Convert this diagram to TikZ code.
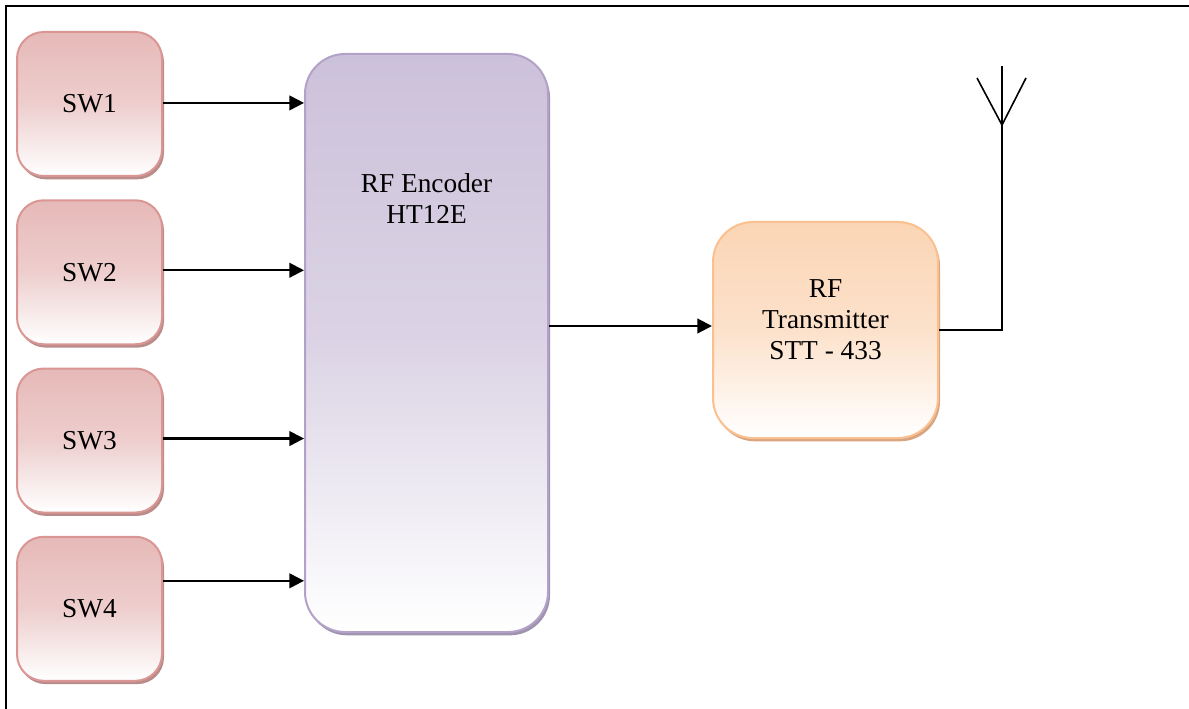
\documentclass[tikz,border=0pt]{standalone}
\usepackage{fontspec}
\setmainfont{Liberation Serif}
\usepackage{xcolor}
\usepackage{tikz}
\usetikzlibrary{arrows.meta,positioning,shadows,calc}

\definecolor{swtop}{HTML}{E6B9B8}
\definecolor{swline}{HTML}{D99694}
\definecolor{swshade}{HTML}{B98C8A}
\definecolor{enctop}{HTML}{CCC1DA}
\definecolor{encline}{HTML}{B3A2C7}
\definecolor{encshade}{HTML}{A093B0}
\definecolor{txtop}{HTML}{FBD5B5}
\definecolor{txline}{HTML}{FAC090}
\definecolor{txshade}{HTML}{D9A57E}

\begin{document}
\begin{tikzpicture}[
    x=0.75pt, y=-0.75pt,
    node distance=16.7pt,
    font=\fontsize{20.5}{23.25}\selectfont,
    block/.style={rectangle, line width=1.5pt, align=center, inner sep=0pt},
    swbox/.style={block, draw=swline, top color=swtop, bottom color=white, middle color=swtop!70!white,
        rounded corners=20pt, minimum width=108.75pt, minimum height=108pt,
        drop shadow={shadow xshift=1.5pt, shadow yshift=-2.5pt, fill=swshade, opacity=1}},
    encbox/.style={block, draw=encline, top color=enctop, bottom color=white, middle color=enctop!70!white,
        rounded corners=30pt, minimum width=182.25pt, minimum height=433.5pt,
        drop shadow={shadow xshift=1.5pt, shadow yshift=-2.5pt, fill=encshade, opacity=1}},
    txbox/.style={block, draw=txline, top color=txtop, bottom color=white, middle color=txtop!70!white,
        rounded corners=30pt, minimum width=168.75pt, minimum height=162pt,
        drop shadow={shadow xshift=1.5pt, shadow yshift=-2.5pt, fill=txshade, opacity=1}},
    arrow/.style={-{Triangle[length=11pt, width=11pt]}, line width=1.6pt},
    wire/.style={line width=1.2pt}
]
    \useasboundingbox (0,0) rectangle (1189,709);

    % page frame (cut at right and bottom)
    \draw[line width=1.5pt] (5.5,709) -- (5.5,6.5) -- (1189,6.5);

    % switches
    \node[swbox] (sw1) at (89.5,104) {SW1};
    \node[swbox, below=of sw1] (sw2) {SW2};
    \node[swbox, below=of sw2] (sw3) {SW3};
    \node[swbox, below=of sw3] (sw4) {SW4};

    % encoder
    \node[encbox] (enc) at (426.5,343) {};
    \node[align=center] (enctext) at (426.5,199) {RF Encoder\\HT12E};

    % transmitter
    \node[txbox] (tx) at (825.5,330) {};
    \node[align=center] (txtext) at (825.5,320) {RF\\Transmitter\\STT - 433};

    % antenna
    \coordinate (ant) at (1002,125);
    \coordinate (anttop) at (1002,66);
    \coordinate (antl) at (977,78);
    \coordinate (antr) at (1026,78);

    \foreach \i/\dy in {1/0.8,2/1.5,3/1.5,4/21} {
        \coordinate (out\i) at ([yshift=\dy pt]sw\i.east);
        \draw[arrow] (out\i) -- (enc.west |- out\i);
    }

    \coordinate (txin) at ([yshift=3pt]tx.west);
    \draw[arrow] (enc.east |- txin) -- (txin);

    \draw[wire] (tx.east) -| (ant);
    \draw[wire] (ant) -- (anttop);
    \draw[wire] (antl) -- (ant) -- (antr);

\end{tikzpicture}
\end{document}
